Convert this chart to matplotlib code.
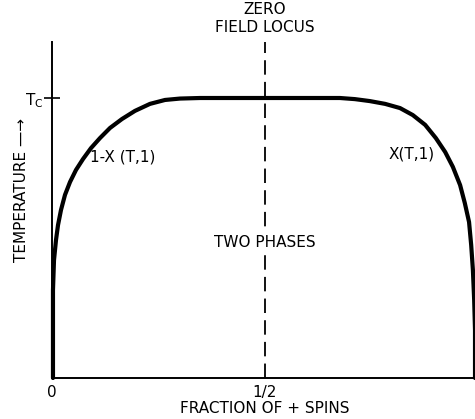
import matplotlib
matplotlib.use('Agg')
import matplotlib.pyplot as plt

# coexistence curve, fraction of + spins vs T/Tc
frac = [0.0023, 0.0023, 0.0023, 0.0047, 0.0094, 0.0141, 0.0211, 0.0305, 0.0423,
        0.0563, 0.0728, 0.0915, 0.1127, 0.1362, 0.1643, 0.1948, 0.2300, 0.2653,
        0.3005, 0.3474, 0.45, 0.55, 0.676, 0.711, 0.746, 0.782, 0.817, 0.847,
        0.876, 0.901, 0.923, 0.941, 0.958, 0.969, 0.979, 0.984, 0.988, 0.991,
        0.993, 0.993]
temp = [0.0, 0.171, 0.314, 0.421, 0.493, 0.546, 0.600, 0.654, 0.700,
        0.743, 0.782, 0.821, 0.857, 0.893, 0.925, 0.954, 0.979, 0.993,
        0.998, 1.0, 1.0, 1.0, 1.0, 0.996, 0.989, 0.979, 0.964, 0.939,
        0.904, 0.857, 0.807, 0.754, 0.689, 0.625, 0.557, 0.475, 0.386, 0.279,
        0.171, 0.0]

x_ticks = [0, 0.5]
x_tick_labels = ['0', '1/2']
t_c = 1.0

fig = plt.figure(figsize=(4.75, 4.19), dpi=100)
ax = fig.add_axes([52 / 475, 41 / 419, 426 / 475, 336 / 419])
ax.set_xlim(0, 1.0)
ax.set_ylim(0, 1.2)

ax.plot(frac, temp, color='black', lw=3, solid_joinstyle='round',
        solid_capstyle='round', clip_on=False)
ax.plot([0.5, 0.5], [0, 1.2], color='black', lw=1.3, dashes=(8, 4), clip_on=False)

for s in ['top', 'right']:
    ax.spines[s].set_visible(False)
for s in ['left', 'bottom']:
    ax.spines[s].set_linewidth(1.4)

ax.set_xticks(x_ticks)
ax.set_xticklabels(x_tick_labels, fontsize=11)
ax.tick_params(axis='x', length=0, pad=5)
ax.set_yticks([t_c])
ax.set_yticklabels(['T$_\\mathrm{C}$'], fontsize=11)
ax.tick_params(axis='y', direction='inout', length=12, width=1.2, pad=0)

ax.set_xlabel('FRACTION OF + SPINS', fontsize=11, labelpad=1)
fig.text(22 / 475, 1 - 190 / 419, 'TEMPERATURE \u2014\u2192', rotation=90,
         ha='center', va='center', fontsize=11)

fig.text(265 / 475, 1 - 10 / 419, 'ZERO', ha='center', va='center', fontsize=11)
fig.text(265 / 475, 1 - 28 / 419, 'FIELD LOCUS', ha='center', va='center', fontsize=11)
ax.text(0.5, 0.484, 'TWO PHASES', ha='center', va='center', fontsize=11,
        bbox=dict(facecolor='white', edgecolor='none', pad=4))
ax.text(0.09, 0.79, '1-X (T,1)', ha='left', va='center', fontsize=11)
ax.text(0.79, 0.80, 'X(T,1)', ha='left', va='center', fontsize=11)

plt.savefig('out.png', dpi=100)
